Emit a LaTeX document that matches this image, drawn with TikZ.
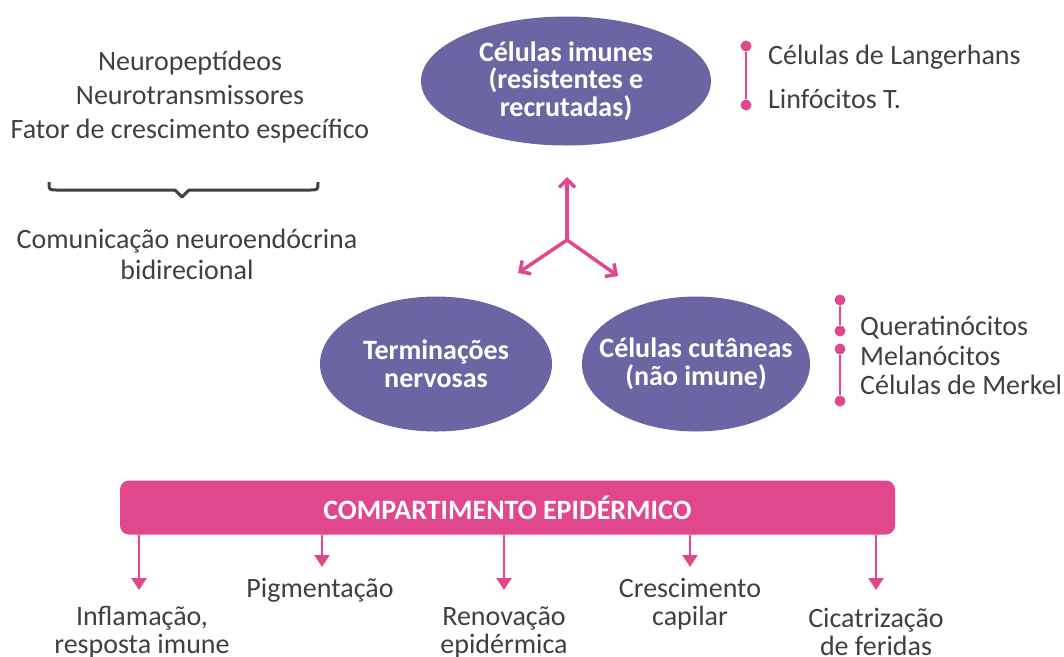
\documentclass[tikz,border=0pt]{standalone}
\usepackage{fontspec}
\setmainfont{Carlito}
\usetikzlibrary{shapes.geometric,arrows.meta}
\definecolor{pinkc}{HTML}{E1478D}
\definecolor{purplec}{HTML}{6B66A3}
\definecolor{textc}{HTML}{404040}
\tikzset{
  txt/.style={text=textc,inner sep=0pt,align=center,font=\fontsize{28}{28}\selectfont},
  oval/.style={ellipse,fill=purplec,text=white,inner sep=-25pt,align=center,font=\bfseries\fontsize{28}{27.5}\selectfont},
  hubarrow/.style={draw=pinkc,line width=3.5pt,-{Straight Barb[length=8pt,width=16pt,line width=3.5pt]}},
  bararrow/.style={draw=pinkc,line width=2.5pt,-{Triangle[length=12pt,width=15pt]}},
  listline/.style={draw=pinkc,line width=2.5pt},
  dot/.style={circle,fill=pinkc,inner sep=0pt,minimum size=11pt},
}
\begin{document}
\begin{tikzpicture}[x=1pt,y=-1pt]
\useasboundingbox (0,0) rectangle (1064,656);
\fill[white] (0,0) rectangle (1064,656);

% left block
\node[txt,font=\fontsize{28}{34}\selectfont] (lefttxt) at (190,97) {Neuropeptídeos\\Neurotransmissores\\Fator de crescimento específico};
\draw[textc,line width=3pt,line join=round] (49,182) .. controls (49,190) .. (57,190) -- (175,190) -- (182,197) -- (189,190) -- (310,190) .. controls (318,190) .. (318,182);
\node[txt,font=\fontsize{28}{31}\selectfont] (comm) at (187,254) {Comunicação neuroendócrina\\bidirecional};

% ellipses
\node[oval,minimum width=290pt,minimum height=129pt] (imm) at (566,81) {Células imunes\\(resistentes e\\recrutadas)};
\node[oval,minimum width=232pt,minimum height=135pt,font=\bfseries\fontsize{28}{28}\selectfont] (nerv) at (436,364) {Terminações\\nervosas};
\node[oval,minimum width=228pt,minimum height=135pt,font=\bfseries\fontsize{28}{28}\selectfont] (cut) at (696,364) {Células cutâneas\\(não imune)};

% hub arrows
\coordinate (hub) at (567,240);
\coordinate (hubU) at (567,177);
\coordinate (hubL) at (518,273);
\coordinate (hubR) at (618,276);
\draw[hubarrow] (hub) -- (hubU);
\draw[hubarrow] (hub) -- (hubL);
\draw[hubarrow] (hub) -- (hubR);

% top right list
\node[dot] (d1) at (746,46) {};
\node[dot] (d2) at (746,105) {};
\draw[listline] (d1) -- (d2);
\node[txt,anchor=west] (lang) at (768,57) {Células de Langerhans};
\node[txt,anchor=west] (linf) at (768,99) {Linfócitos T.};

% middle right list
\node[dot] (e1) at (840,300) {};
\node[dot] (e2) at (840,331) {};
\node[dot] (e3) at (840,349) {};
\node[dot] (e4) at (840,401) {};
\draw[listline] (e1) -- (e2);
\draw[listline] (e3) -- (e4);
\node[txt,anchor=west] (quer) at (860,328) {Queratinócitos};
\node[txt,anchor=west] (mela) at (860,356) {Melanócitos};
\node[txt,anchor=west] (merk) at (860,385) {Células de Merkel};

% bar
\node[fill=pinkc,rounded corners=9pt,minimum width=775pt,minimum height=54pt,inner sep=0pt,text=white,font=\bfseries\fontsize{28}{28}\selectfont] (bar) at (507.5,507.5) {COMPARTIMENTO EPIDÉRMICO};

\coordinate (t1) at (139,590);
\coordinate (t2) at (322,567);
\coordinate (t3) at (504,590);
\coordinate (t4) at (690,567);
\coordinate (t5) at (876,590);
\foreach \t in {t1,t2,t3,t4,t5}{
  \draw[bararrow] (bar.south -| \t) -- (\t);
}

\node[txt] (inf) at (142,632) {Inflamação,\\resposta imune};
\node[txt] (pig) at (320,590) {Pigmentação};
\node[txt] (ren) at (504,632) {Renovação\\epidérmica};
\node[txt] (cre) at (690,604) {Crescimento\\capilar};
\node[txt] (cic) at (876,632) {Cicatrização\\de feridas};
\end{tikzpicture}
\end{document}
